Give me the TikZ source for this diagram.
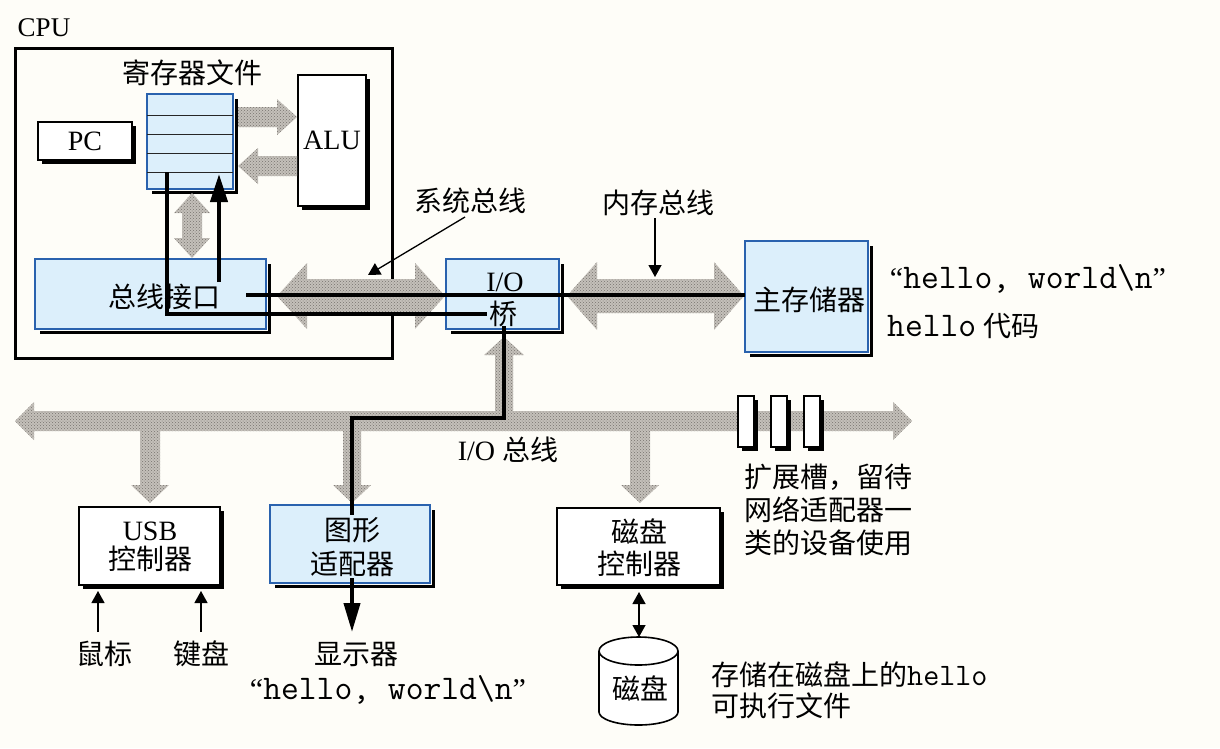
\documentclass[tikz,border=0pt]{standalone}
\usepackage{fontspec}
\setmainfont{Liberation Serif}
\newfontfamily\zh{Noto Sans CJK SC}
\usetikzlibrary{arrows.meta,calc,patterns,shadows}
\definecolor{paper}{HTML}{FEFDF8}
\definecolor{boxblue}{HTML}{DCEFFB}
\definecolor{edgeblue}{HTML}{2A62AE}
\definecolor{busgray}{HTML}{C4C0BA}
\definecolor{busdot}{HTML}{77736E}
\newcommand{\fs}[2]{\fontsize{#1}{#2}\selectfont}
\tikzset{
  boxbase/.style={anchor=center,inner sep=0pt,align=center,font=\fs{28}{32}},
  plainbox/.style={boxbase,draw=black,line width=1.2pt,fill=white,
    general shadow={shadow xshift=4pt,shadow yshift=-4pt,fill=black}},
  bluebox/.style={boxbase,draw=edgeblue,line width=1.3pt,fill=boxblue,
    general shadow={shadow xshift=4.5pt,shadow yshift=-4.5pt,fill=black},
    general shadow={shadow xshift=1.8pt,shadow yshift=-1.8pt,fill=paper}},
  slotbox/.style={plainbox,minimum width=16pt,minimum height=51pt},
  lbl/.style={inner sep=0pt,font=\fs{28}{32}},
  busfill/.style={preaction={fill=busgray},pattern=crosshatch dots,pattern color=busdot},
  wire/.style={line width=4pt,black},
  thin/.style={line width=1.3pt,-{Triangle[length=12pt,width=13pt]}},
  thinboth/.style={line width=1.3pt,{Triangle[length=12pt,width=13pt]}-{Triangle[length=12pt,width=13pt]}},
}
% double-headed bus: #1,#2 end coordinates, #3 head length, #4 half head width, #5 half body width
\newcommand{\dbus}[5]{%
  \coordinate (tmpP) at ($(#1)!#3pt!(#2)$);
  \coordinate (tmpQ) at ($(#2)!#3pt!(#1)$);
  \path[busfill] (#1) -- ($(tmpP)!#4pt!90:(#2)$) -- ($(tmpP)!#5pt!90:(#2)$)
    -- ($(tmpQ)!#5pt!-90:(#1)$) -- ($(tmpQ)!#4pt!-90:(#1)$) -- (#2)
    -- ($(tmpQ)!#4pt!90:(#1)$) -- ($(tmpQ)!#5pt!90:(#1)$)
    -- ($(tmpP)!#5pt!-90:(#2)$) -- ($(tmpP)!#4pt!-90:(#2)$) -- cycle;
}
% single-headed bus: flat at #1, tip at #2
\newcommand{\sbus}[5]{%
  \coordinate (tmpQ) at ($(#2)!#3pt!(#1)$);
  \path[busfill] ($(#1)!#5pt!90:(#2)$) -- ($(tmpQ)!#5pt!-90:(#1)$) -- ($(tmpQ)!#4pt!-90:(#1)$) -- (#2)
    -- ($(tmpQ)!#4pt!90:(#1)$) -- ($(tmpQ)!#5pt!90:(#1)$) -- ($(#1)!#5pt!-90:(#2)$) -- cycle;
}
\begin{document}
\begin{tikzpicture}[x=1pt,y=-1pt]
\useasboundingbox (0,0) rectangle (1220,748);
\fill[paper] (0,0) rectangle (1220,748);

% CPU frame
\node[lbl,anchor=center,font=\fs{27}{30}] (cpulabel) at (44,28) {CPU};
\node[draw=black,line width=3pt,minimum width=377pt,minimum height=310pt,inner sep=0pt] (cpu) at (203.5,203) {};

% boxes
\node[plainbox,minimum width=94pt,minimum height=38pt] (pc) at (85,141) {PC};
\node[bluebox,minimum width=86pt,minimum height=95pt] (reg) at (190,141.5) {};
\foreach \yy in {115,134,153,172}{\draw[line width=1pt,black!85] (147,\yy) -- (233,\yy);}
\node[lbl] (reglabel) at (192,73) {\zh 寄存器文件};
\node[plainbox,minimum width=68pt,minimum height=131pt] (alu) at (332,140.5) {ALU};
\node[bluebox,minimum width=231pt,minimum height=70pt] (busif) at (150.5,294) {};
\node[lbl] (busiflabel) at (164,297) {\zh 总线接口};
\node[bluebox,minimum width=113pt,minimum height=70pt] (bridge) at (502.5,294) {};
\node[lbl] (iolabel) at (505,282) {I/O};
\node[lbl] (bridgelabel) at (503,314) {\zh 桥};
\node[bluebox,minimum width=123pt,minimum height=111pt] (mem) at (806.5,296.5) {};
\node[lbl] (memlabel) at (809,300) {\zh 主存储器};
\node[plainbox,minimum width=141pt,minimum height=78pt] (usb) at (149.5,546) {};
\node[lbl,align=center] (usblabel) at (150,547) {USB\\[-3pt]{\zh 控制器}};
\node[bluebox,minimum width=160pt,minimum height=78pt] (gfx) at (350,544) {};
\node[lbl,align=center] (gfxlabel) at (352,547) {{\zh 图形}\\[2pt]{\zh 适配器}};
\node[plainbox,minimum width=163pt,minimum height=77pt] (diskctl) at (638.5,546.5) {};
\node[lbl,align=center] (ctllabel) at (639,547.5) {{\zh 磁盘}\\{\zh 控制器}};

% buses
\coordinate (sysL) at (277,296); \coordinate (sysR) at (445,296);
\coordinate (memL) at (567,296); \coordinate (memR) at (744,296);
\coordinate (ioL) at (15,421); \coordinate (ioR) at (912,421);
\dbus{sysL}{sysR}{30}{33}{17}
\dbus{memL}{memR}{30}{34}{17}
\dbus{ioL}{ioR}{19}{19}{10}
\coordinate (raS) at (238,117); \coordinate (raT) at (297,117);
\sbus{raS}{raT}{20}{18}{10}
\coordinate (arS) at (297,166); \coordinate (arT) at (238,166);
\sbus{arS}{arT}{20}{18}{10}
\coordinate (rbT) at (192,193); \coordinate (rbB) at (192,258);
\dbus{rbT}{rbB}{20}{18}{10}
\coordinate (brS) at (504,420); \coordinate (brT) at (504,337);
\sbus{brS}{brT}{18}{20}{9}
\coordinate (usbS) at (150,425); \coordinate (usbT) at (150,503);
\sbus{usbS}{usbT}{18}{19}{10}
\coordinate (gfxS) at (352,425); \coordinate (gfxT) at (352,503);
\sbus{gfxS}{gfxT}{18}{19}{9}
\coordinate (dskS) at (640,425); \coordinate (dskT) at (640,503);
\sbus{dskS}{dskT}{18}{19}{10}

% expansion slots
\node[slotbox] (slota) at (746,421.5) {};
\node[slotbox] (slotb) at (779,421.5) {};
\node[slotbox] (slotc) at (812,421.5) {};

% black wires
\coordinate (w1a) at (167,172); \coordinate (w1b) at (167,314); \coordinate (w1c) at (487,314);
\draw[wire] (w1a) -- (w1b) -- (w1c);
\coordinate (w2a) at (219,282); \coordinate (w2b) at (219,174);
\draw[wire,-{Triangle[length=28pt,width=17pt]}] (w2a) -- (w2b);
\coordinate (w3a) at (246,295); \coordinate (w3b) at (745,295);
\draw[line width=4.6pt] (w3a) -- (w3b);
\coordinate (w4a) at (504,326); \coordinate (w4b) at (504,418); \coordinate (w4c) at (352,418); \coordinate (w4d) at (352,515);
\draw[wire] (w4a) -- (w4b) -- (w4c) -- (w4d);
\coordinate (w5a) at (352,578); \coordinate (w5b) at (352,632);
\draw[wire,-{Triangle[length=29pt,width=16pt]}] (w5a) -- (w5b);

% labels and thin arrows
\node[lbl] (sysbus) at (470,201) {\zh 系统总线};
\node[lbl] (membus) at (658,203) {\zh 内存总线};
\coordinate (sysA) at (465,217); \coordinate (sysB) at (368,275);
\draw[thin] (sysA) -- (sysB);
\coordinate (memA) at (655,218); \coordinate (memB) at (655,277);
\draw[thin] (memA) -- (memB);
\node[lbl] (iobus) at (508,450) {I/O {\zh 总线}};

\node[lbl] (mouse) at (104,654) {\zh 鼠标};
\node[lbl] (keyb) at (201,654) {\zh 键盘};
\node[lbl] (disp) at (356,654) {\zh 显示器};
\coordinate (mouseA) at (98,632); \coordinate (mouseB) at (98,591);
\coordinate (keyA) at (201,632); \coordinate (keyB) at (201,591);
\draw[thin] (mouseA) -- (mouseB);
\draw[thin] (keyA) -- (keyB);
\node[lbl,font=\fs{30}{32}] (disptext) at (388,690) {“{\fs{34.6}{36}\ttfamily hello, world\textbackslash n}”};
\node[lbl,font=\fs{30}{32}] (memtext) at (1028,279) {“{\fs{34.6}{36}\ttfamily hello, world\textbackslash n}”};
\node[lbl,anchor=west] (memcode) at (887,326) {{\fs{34.6}{36}\ttfamily hello} {\zh 代码}};

\node[lbl,anchor=west] (slottxta) at (744,477) {\zh 扩展槽，留待};
\node[lbl,anchor=west] (slottxtb) at (744,510) {\zh 网络适配器一};
\node[lbl,anchor=west] (slottxtc) at (744,543) {\zh 类的设备使用};

% disk
\draw[line width=1.6pt,fill=white] (599,651) -- (599,712) arc[start angle=180,end angle=360,x radius=39.5pt,y radius=13pt] -- (678,651);
\draw[line width=1.6pt,fill=white] (638.5,651) ellipse[x radius=39.5pt,y radius=14pt];
\node[lbl] (disk) at (640,688) {\zh 磁盘};
\coordinate (diskTop) at (639,637); \coordinate (ctlBot) at (639,592);
\draw[thinboth] (ctlBot) -- (diskTop);
\node[lbl,anchor=west] (disktxta) at (711,675) {{\zh 存储在磁盘上的}{\fs{31.2}{32}\ttfamily hello}};
\node[lbl,anchor=west] (disktxtb) at (711,706) {\zh 可执行文件};
\end{tikzpicture}
\end{document}
